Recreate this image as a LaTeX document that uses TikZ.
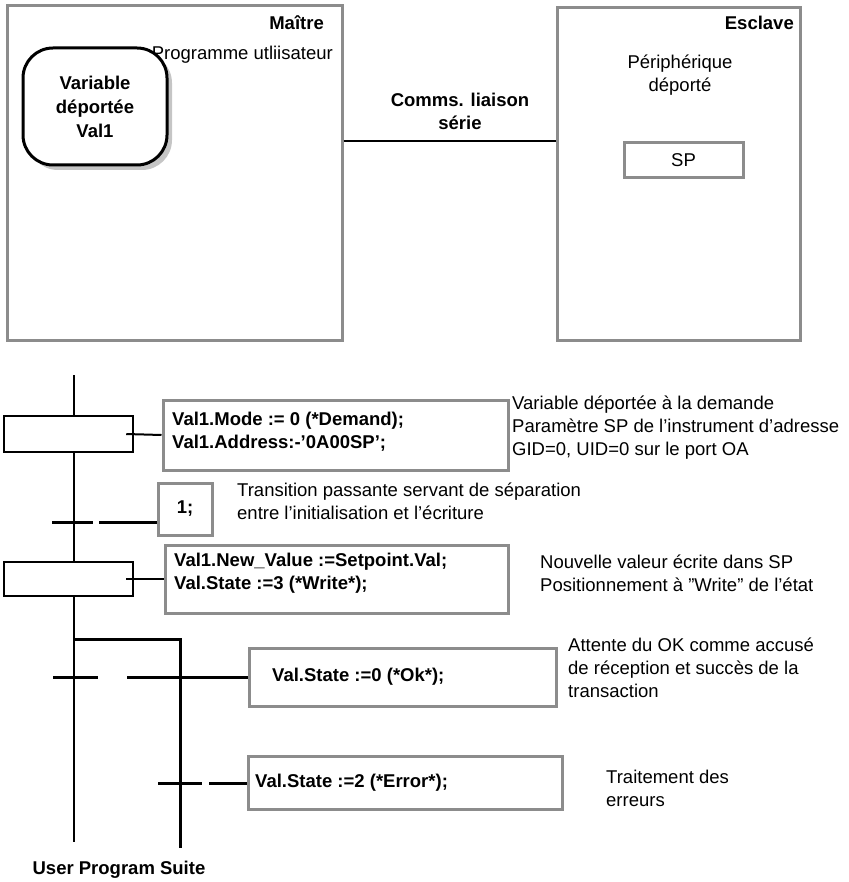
\documentclass[tikz,border=0pt]{standalone}
\usepackage{fontspec}
\setmainfont{Liberation Sans}
\usetikzlibrary{shadows}

\begin{document}
\begin{tikzpicture}[
      x = 1pt, y = -1pt,
      font = \fontsize{18.5}{23}\selectfont,
      frame/.style = {
        rectangle,
        draw = black!45, line width = 3pt,
        inner sep = 0,
      },
      varbox/.style = {
        rectangle,
        draw = black, line width = 3pt,
        fill = white,
        rounded corners = 30pt,
        align = center,
        minimum width = 144pt, minimum height = 117pt,
        font = \fontsize{18.5}{24}\selectfont\bfseries,
        drop shadow = {shadow xshift = 5pt, shadow yshift = -5pt, fill = black!45},
      },
      stepbox/.style = {
        rectangle,
        draw = black, line width = 2.5pt,
        fill = white,
        minimum width = 129pt,
      },
      tag/.style = {
        inner sep = 0,
        font = \fontsize{18.5}{23}\selectfont\bfseries,
      },
      code/.style = {
        inner sep = 0,
        anchor = west,
        align = left,
        font = \fontsize{18.5}{23}\selectfont\bfseries,
      },
      note/.style = {
        inner sep = 0,
        anchor = west,
        align = left,
      },
      wire/.style = {line width = 2pt},
      bar/.style = {line width = 3pt},
    ]
    \useasboundingbox (0,0) rectangle (848,882);

    \node[frame, minimum width = 335pt, minimum height = 334pt] (maitre) at (174.5,173) {};
    \node[frame, minimum width = 243pt, minimum height = 332pt] (esclave) at (678.5,174) {};
    \node[tag, anchor = east] (maitretag) at (324,23) {Maître};
    \node[note, anchor = east] (prog) at (333,55) {Programme utliisateur};
    \node[varbox] (var) at (95,106.5) {Variable\\déportée\\Val1};
    \node[tag, align = center] (comms) at (460,111) {Comms. liaison\\série};
    \node[tag, anchor = east] (esclavetag) at (794,23) {Esclave};
    \node[note, anchor = center, align = center] (periph) at (680,75) {Périphérique\\déporté};
    \node[frame, minimum width = 119pt, minimum height = 35pt] (sp) at (683.5,160.5) {SP};
    \draw[wire] (maitre.east |- sp.north) -- (esclave.west |- sp.north);

    \coordinate (in) at (74,375);
    \coordinate (out) at (74,842);
    \coordinate (div) at (74,639);
    \coordinate (b2) at (180,639);
    \coordinate (out2) at (180,848);
    \coordinate (t1) at (74,522);
    \coordinate (t2) at (74,677);
    \coordinate (t3) at (180,783);
    \draw[wire] (in) -- (out);
    \draw[bar] (div) -- (b2) -- (out2);

    \node[stepbox, minimum height = 36pt] (e1) at (68.5,434) {};
    \node[frame, minimum width = 345pt, minimum height = 70pt] (act1) at (335.5,435) {};
    \node[code] (c1) at (172,432) {Val1.Mode := 0 (*Demand);\\Val1.Address:-'0A00SP';};
    \node[note] (d1) at (512,428) {Variable déportée à la demande\\Paramètre SP de l'instrument d'adresse\\GID=0, UID=0 sur le port OA};
    \draw[wire] ([xshift = -8pt]e1.east) -- (act1.west);

    \node[frame, minimum width = 54pt, minimum height = 52pt] (r1) at (185,509) {\bfseries 1;};
    \draw[bar] ([xshift = -22pt]t1) -- ([xshift = 19pt]t1);
    \draw[bar] ([xshift = 25pt]t1) -- (t1 -| r1.west);
    \node[note] (d2) at (237,501) {Transition passante servant de séparation\\entre l'initialisation et l'écriture};

    \node[stepbox, minimum height = 34pt] (e2) at (68.5,579) {};
    \node[frame, minimum width = 343pt, minimum height = 68pt] (act2) at (336.5,579) {};
    \node[code] (c2) at (174,573.5) {Val1.New\_Value :=Setpoint.Val;\\Val.State :=3 (*Write*);};
    \node[note] (d3) at (540,573.5) {Nouvelle valeur écrite dans SP\\Positionnement à "Write" de l'état};
    \draw[wire] ([xshift = -8pt]e2.east) -- (act2.west);

    \node[frame, minimum width = 307pt, minimum height = 58pt] (r2) at (402.5,677) {};
    \node[code] (c3) at (272,677) {Val.State :=0 (*Ok*);};
    \draw[bar] ([xshift = -21pt]t2) -- ([xshift = 24pt]t2);
    \draw[bar] ([xshift = 53pt]t2) -- (r2.west);
    \node[note] (d4) at (568,668) {Attente du OK comme accusé\\de réception et succès de la\\transaction};

    \node[frame, minimum width = 314pt, minimum height = 53pt] (r3) at (405.5,783) {};
    \node[code] (c4) at (255,783) {Val.State :=2 (*Error*);};
    \draw[bar] ([xshift = -22pt]t3) -- ([xshift = 22pt]t3);
    \draw[bar] ([xshift = 29pt]t3) -- (r3.west);
    \node[note] (d5) at (606,788.5) {Traitement des\\erreurs};

    \node[tag] (suite) at (119,870) {User Program Suite};
  \end{tikzpicture}
\end{document}
